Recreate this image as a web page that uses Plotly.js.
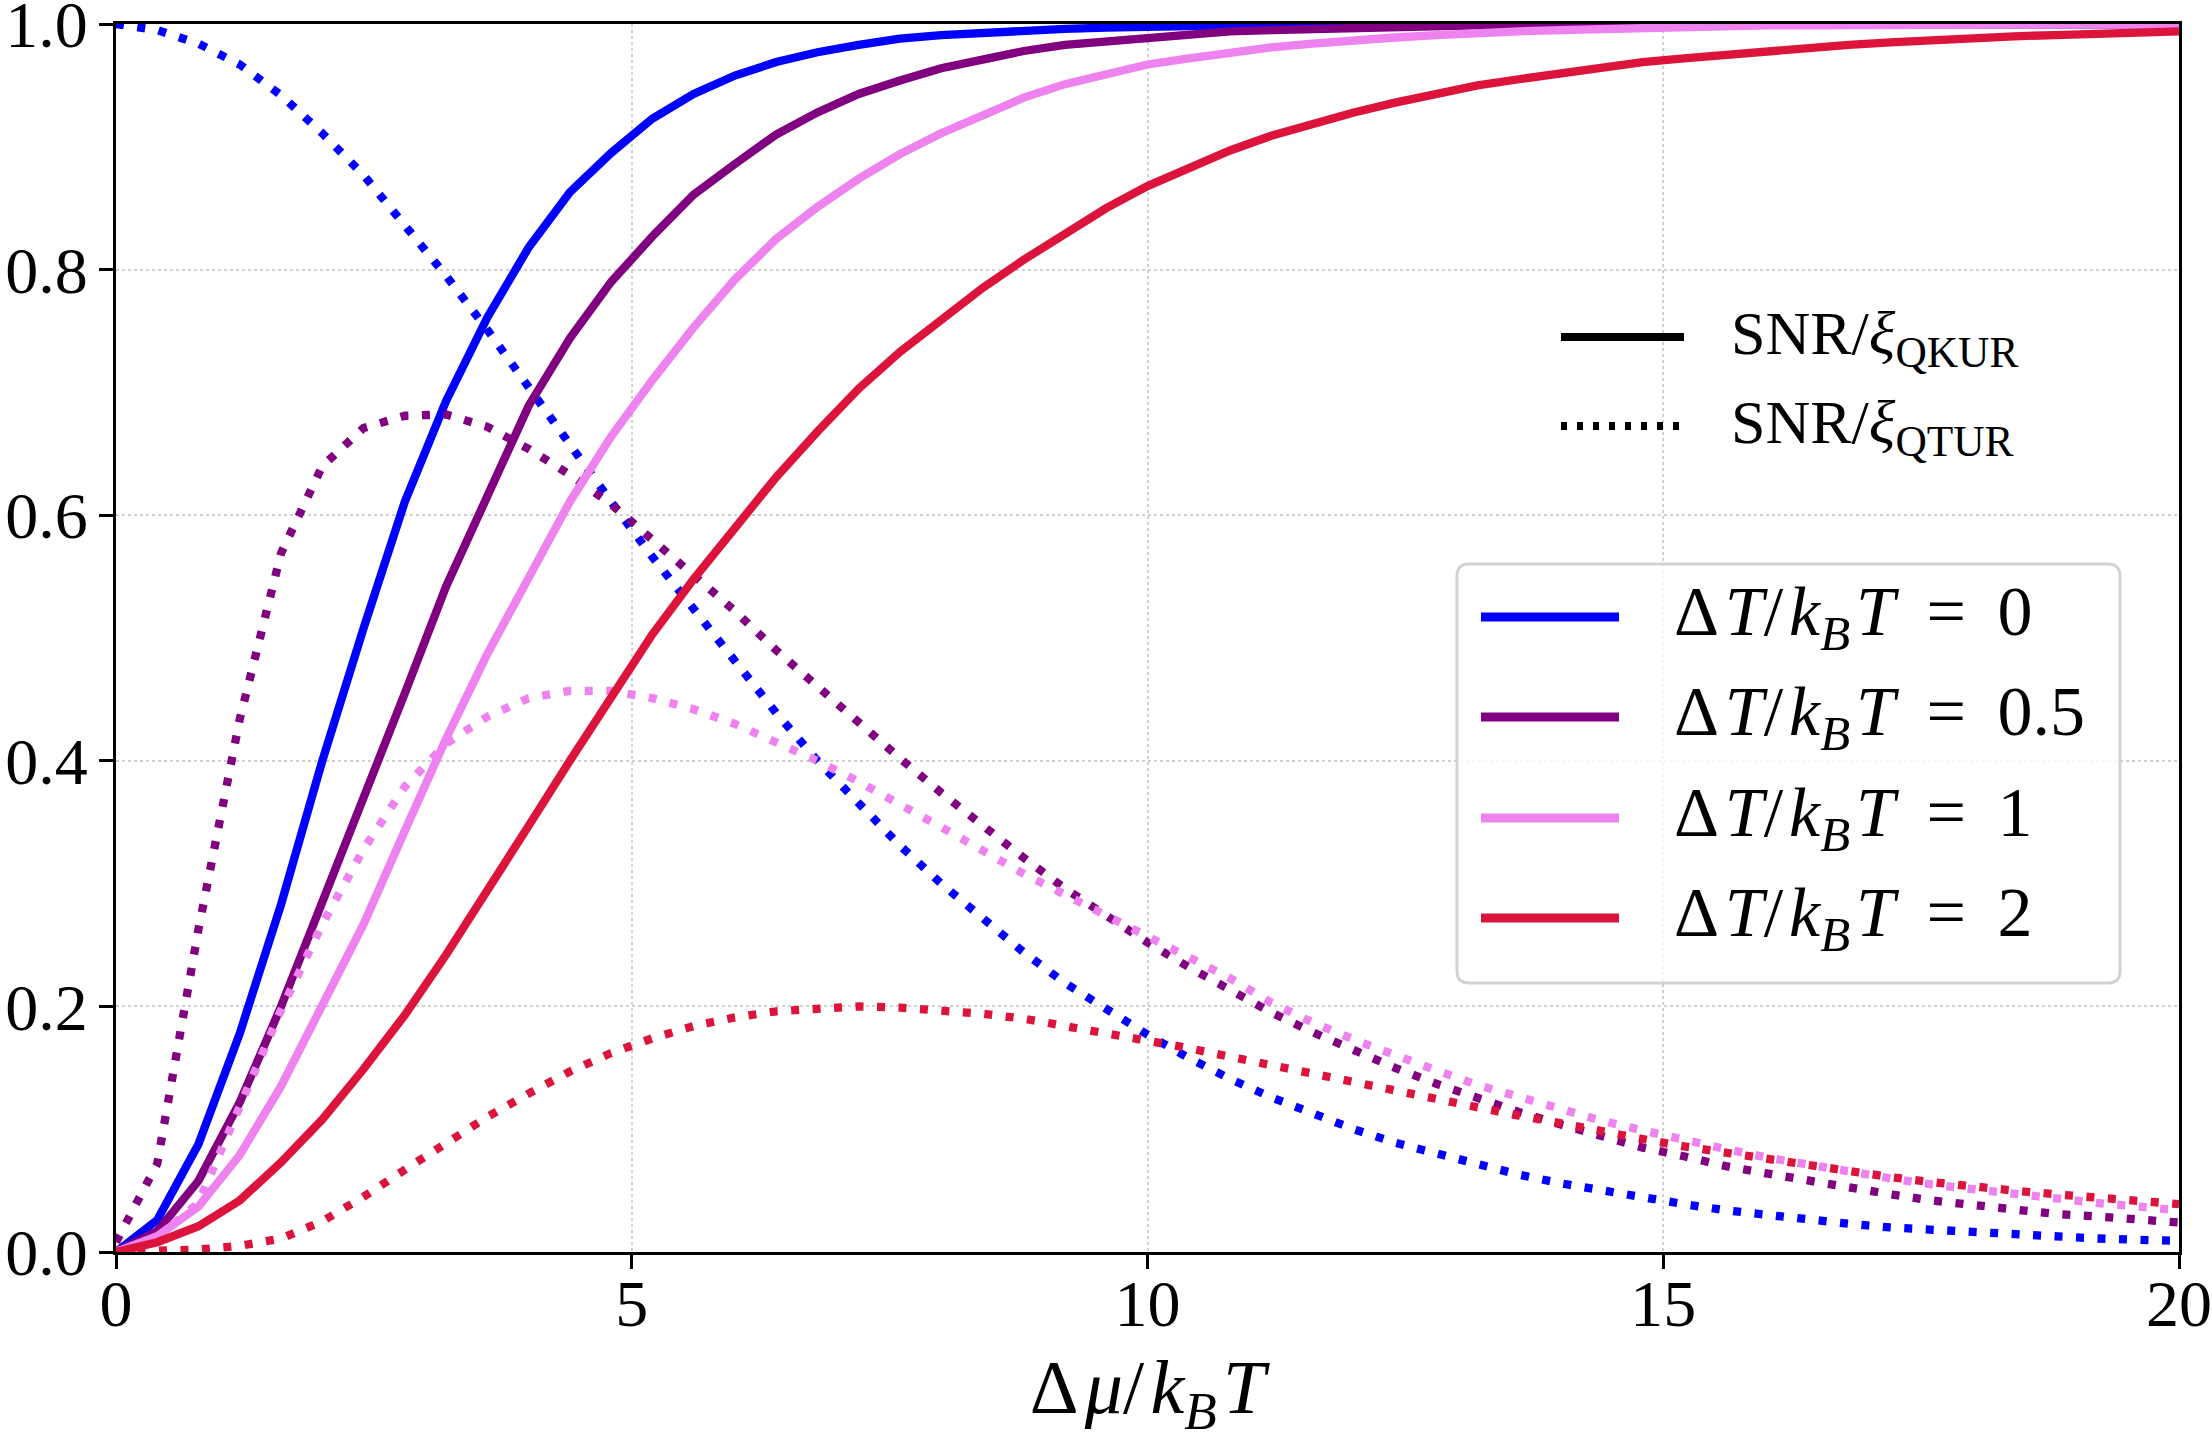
<!DOCTYPE html>
<html>
<head>
<meta charset="utf-8">
<script src="https://cdn.plot.ly/plotly-3.0.1.min.js"></script>
<style>
  html, body { margin: 0; padding: 0; background: #ffffff; }
  #chart { width: 2212px; height: 1441px; }
</style>
</head>
<body>
<div id="chart"></div>
<script>
// Chemical potential bias Δμ/k_BT (shared abscissa of every curve)
const dmu = [0, 0.4, 0.8, 1.2, 1.6, 2.0, 2.4, 2.8, 3.2, 3.6, 4.0, 4.4, 4.8, 5.2, 5.6, 6.0, 6.4, 6.8, 7.2, 7.6,
             8.0, 8.4, 8.8, 9.2, 9.6, 10.0, 10.4, 10.8, 11.2, 11.6, 12.0, 12.4, 12.8, 13.2, 13.6, 14.0, 14.4, 14.8, 15.2, 15.6,
             16.0, 16.4, 16.8, 17.2, 17.6, 18.0, 18.4, 18.8, 19.2, 19.6, 20.0];

// Temperature bias values ΔT/k_BT and their colours
const dTLabels = ['0', '0.5', '1', '2'];
const dTColors = ['#0000ff', '#800080', '#ee82ee', '#dc143c'];

// SNR / ξ_QKUR (solid lines)
const kurDT0 = [0, 0.026, 0.088, 0.178, 0.283, 0.400, 0.508, 0.611, 0.693, 0.761, 0.818, 0.863, 0.895, 0.923, 0.943, 0.958, 0.969, 0.977, 0.983, 0.988,
                0.991, 0.993, 0.995, 0.996, 0.997, 0.998, 0.998, 0.999, 0.999, 0.999, 0.999, 1.0, 1.0, 1.0, 1.0, 1.0, 1.0, 1.0, 1.0, 1.0,
                1.0, 1.0, 1.0, 1.0, 1.0, 1.0, 1.0, 1.0, 1.0, 1.0, 1.0];
const kurDT05 = [0, 0.017, 0.058, 0.122, 0.200, 0.284, 0.372, 0.455, 0.542, 0.617, 0.689, 0.744, 0.790, 0.827, 0.861, 0.886, 0.910, 0.928, 0.943, 0.954,
                 0.964, 0.971, 0.978, 0.983, 0.986, 0.989, 0.992, 0.994, 0.995, 0.996, 0.997, 0.998, 0.998, 0.999, 0.999, 0.999, 0.999, 1.0, 1.0, 1.0,
                 1.0, 1.0, 1.0, 1.0, 1.0, 1.0, 1.0, 1.0, 1.0, 1.0, 1.0];
const kurDT1 = [0, 0.013, 0.037, 0.079, 0.135, 0.200, 0.267, 0.343, 0.418, 0.487, 0.550, 0.611, 0.664, 0.710, 0.753, 0.792, 0.825, 0.851, 0.874, 0.894,
                0.911, 0.926, 0.940, 0.951, 0.959, 0.967, 0.972, 0.977, 0.981, 0.984, 0.987, 0.989, 0.991, 0.993, 0.994, 0.995, 0.996, 0.997, 0.998, 0.998,
                0.999, 0.999, 0.999, 0.999, 1.0, 1.0, 1.0, 1.0, 1.0, 1.0, 1.0];
const kurDT2 = [0, 0.008, 0.021, 0.042, 0.073, 0.108, 0.149, 0.193, 0.242, 0.293, 0.347, 0.400, 0.452, 0.503, 0.548, 0.590, 0.631, 0.668, 0.703, 0.733,
                0.760, 0.785, 0.808, 0.830, 0.850, 0.868, 0.883, 0.897, 0.909, 0.919, 0.928, 0.936, 0.943, 0.950, 0.955, 0.960, 0.965, 0.969, 0.972, 0.975,
                0.978, 0.981, 0.983, 0.985, 0.987, 0.989, 0.990, 0.991, 0.992, 0.993, 0.994];

// SNR / ξ_QTUR (dotted lines)
const turDT0 = [1.0, 0.995, 0.984, 0.967, 0.942, 0.911, 0.877, 0.837, 0.795, 0.751, 0.704, 0.658, 0.611, 0.566, 0.523, 0.482, 0.439, 0.400, 0.365, 0.331,
                0.300, 0.271, 0.244, 0.219, 0.197, 0.177, 0.158, 0.141, 0.126, 0.113, 0.100, 0.089, 0.080, 0.071, 0.063, 0.056, 0.050, 0.044, 0.039, 0.034,
                0.030, 0.026, 0.023, 0.020, 0.018, 0.016, 0.014, 0.013, 0.011, 0.010, 0.009];
const turDT05 = [0.008, 0.072, 0.263, 0.434, 0.569, 0.640, 0.671, 0.681, 0.682, 0.672, 0.654, 0.633, 0.609, 0.580, 0.553, 0.522, 0.490, 0.460, 0.432, 0.402,
                 0.374, 0.347, 0.321, 0.296, 0.273, 0.252, 0.232, 0.213, 0.195, 0.179, 0.164, 0.150, 0.137, 0.125, 0.114, 0.104, 0.094, 0.085, 0.078, 0.070,
                 0.064, 0.058, 0.052, 0.047, 0.042, 0.038, 0.034, 0.031, 0.029, 0.026, 0.024];
const turDT1 = [0, 0.012, 0.040, 0.118, 0.197, 0.267, 0.328, 0.379, 0.414, 0.436, 0.451, 0.457, 0.457, 0.451, 0.442, 0.430, 0.415, 0.400, 0.383, 0.365,
                0.346, 0.327, 0.308, 0.291, 0.274, 0.257, 0.240, 0.223, 0.203, 0.187, 0.173, 0.160, 0.148, 0.136, 0.126, 0.116, 0.107, 0.099, 0.091, 0.084,
                0.077, 0.071, 0.065, 0.060, 0.055, 0.051, 0.047, 0.043, 0.040, 0.037, 0.034];
const turDT2 = [0, 0.001, 0.002, 0.005, 0.011, 0.025, 0.045, 0.067, 0.089, 0.110, 0.129, 0.147, 0.162, 0.174, 0.184, 0.191, 0.196, 0.198, 0.200, 0.199,
                0.197, 0.194, 0.190, 0.184, 0.178, 0.173, 0.166, 0.159, 0.152, 0.145, 0.138, 0.131, 0.125, 0.118, 0.111, 0.105, 0.098, 0.092, 0.086, 0.081,
                0.075, 0.070, 0.065, 0.061, 0.057, 0.053, 0.050, 0.047, 0.044, 0.041, 0.039];

// Line-style key labels
const styleLabels = ['SNR/<i>ξ</i><sub>QKUR</sub>', 'SNR/<i>ξ</i><sub>QTUR</sub>'];

const kurSeries = [kurDT0, kurDT05, kurDT1, kurDT2];
const turSeries = [turDT0, turDT05, turDT1, turDT2];

const SERIF = 'Liberation Serif, Times New Roman, serif';
const LINE_W = 8.3;
const DOT = '8px,13.5px';
const THIN = '\u2009';
const HAIR = '\u200A';

// Figure geometry (pixels)
const W = 2212, H = 1441;
const M = { l: 116, r: 33, t: 24, b: 189 };
const plotW = W - M.l - M.r;
const plotH = H - M.t - M.b;
const px = X => (X - M.l) / plotW;        // pixel column -> paper x
const py = Y => (H - M.b - Y) / plotH;     // pixel row -> paper y

function dTText(v) {
  return 'Δ' + HAIR + '<i>T</i>/' + HAIR + '<i>k</i><sub><i>B</i></sub>' + HAIR + '<i>T</i> ' + THIN + '= ' + THIN + v;
}

// Traces: for each ΔT, the QKUR ratio (solid) and the QTUR ratio (dotted)
const traces = [];
dTLabels.forEach((lab, i) => {
  traces.push({
    type: 'scatter', mode: 'lines', x: dmu, y: kurSeries[i],
    name: 'ΔT/kBT = ' + lab + ' (QKUR)',
    line: { color: dTColors[i], width: LINE_W },
    showlegend: false, hoverinfo: 'skip'
  });
  traces.push({
    type: 'scatter', mode: 'lines', x: dmu, y: turSeries[i],
    name: 'ΔT/kBT = ' + lab + ' (QTUR)',
    line: { color: dTColors[i], width: LINE_W, dash: DOT },
    showlegend: false, hoverinfo: 'skip'
  });
});

// Keys drawn as shapes + annotations
const shapes = [];
const annotations = [];

// Colour key: rounded, semi-transparent box
const box = { x0: px(1457), x1: px(2120), y0: py(983), y1: py(564) };
const rx = 12 / plotW, ry = 12 / plotH;
shapes.push({
  type: 'path', xref: 'paper', yref: 'paper',
  path: `M ${box.x0 + rx},${box.y1} L ${box.x1 - rx},${box.y1} Q ${box.x1},${box.y1} ${box.x1},${box.y1 - ry} ` +
        `L ${box.x1},${box.y0 + ry} Q ${box.x1},${box.y0} ${box.x1 - rx},${box.y0} ` +
        `L ${box.x0 + rx},${box.y0} Q ${box.x0},${box.y0} ${box.x0},${box.y0 + ry} ` +
        `L ${box.x0},${box.y1 - ry} Q ${box.x0},${box.y1} ${box.x0 + rx},${box.y1} Z`,
  fillcolor: 'rgba(255,255,255,0.8)',
  line: { color: '#d2d2d2', width: 3 },
  layer: 'above'
});
const keyRows = [617, 717, 818, 918];
dTLabels.forEach((lab, i) => {
  shapes.push({
    type: 'line', xref: 'paper', yref: 'paper',
    x0: px(1481), x1: px(1619), y0: py(keyRows[i]), y1: py(keyRows[i]),
    line: { color: dTColors[i], width: 9 }
  });
  annotations.push({
    xref: 'paper', yref: 'paper', x: px(1672), y: py(keyRows[i]),
    xanchor: 'left', yanchor: 'middle', showarrow: false,
    text: dTText(lab), font: { family: SERIF, size: 70, color: '#000' }
  });
});

// Line-style key (no frame)
const styleRows = [337, 426];
const styleDash = ['solid', '6px,10px'];
styleLabels.forEach((lab, i) => {
  shapes.push({
    type: 'line', xref: 'paper', yref: 'paper',
    x0: px(1561), x1: px(1684), y0: py(styleRows[i]), y1: py(styleRows[i]),
    line: { color: '#000000', width: 8, dash: styleDash[i] }
  });
  annotations.push({
    xref: 'paper', yref: 'paper', x: px(1729), y: py(styleRows[i]),
    xanchor: 'left', yanchor: 'middle', showarrow: false,
    text: lab, font: { family: SERIF, size: 62, color: '#000' }
  });
});

const axisCommon = {
  showline: true, mirror: true, linecolor: '#000000', linewidth: 3,
  ticks: 'outside', ticklen: 14, tickwidth: 3, tickcolor: '#000000',
  showgrid: true, gridcolor: '#d0d0d0', gridwidth: 2, griddash: 'dot',
  zeroline: false, tickfont: { family: SERIF, size: 66, color: '#000' },
  ticklabeloverflow: 'allow', fixedrange: true
};

const layout = {
  width: W, height: H,
  margin: { l: M.l, r: M.r, t: M.t, b: M.b, pad: 0 },
  paper_bgcolor: '#ffffff', plot_bgcolor: '#ffffff',
  font: { family: SERIF, size: 66, color: '#000' },
  showlegend: false,
  xaxis: Object.assign({}, axisCommon, {
    range: [0, 20], tick0: 0, dtick: 5, ticklabelstandoff: -22,
    title: {
      text: 'Δ' + HAIR + '<i>μ</i>/' + HAIR + '<i>k</i><sub><i>B</i></sub>' + HAIR + '<i>T</i>',
      font: { family: SERIF, size: 76, color: '#000' }, standoff: 44
    }
  }),
  yaxis: Object.assign({}, axisCommon, {
    range: [0, 1], tick0: 0, dtick: 0.2, tickformat: '.1f', ticklabelstandoff: -2
  }),
  shapes: shapes,
  annotations: annotations
};

Plotly.newPlot('chart', traces, layout, { displayModeBar: false, staticPlot: true });
</script>
</body>
</html>
